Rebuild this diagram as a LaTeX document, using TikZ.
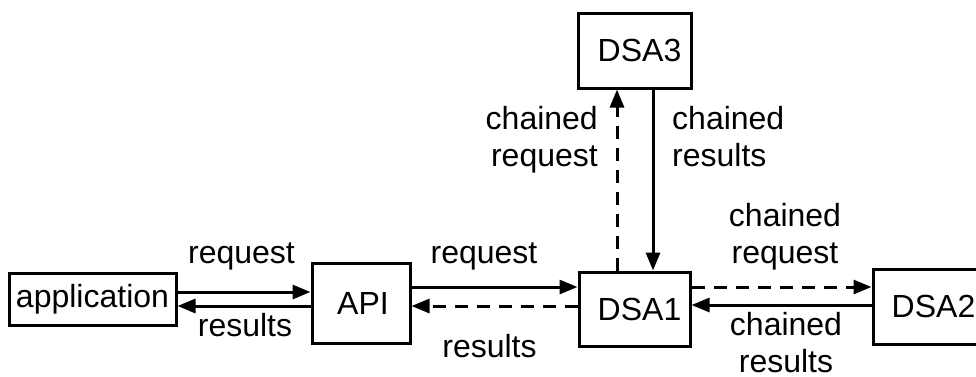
\documentclass[tikz,border=0pt]{standalone}
\usepackage{fontspec}
\setmainfont{Liberation Sans}
\usetikzlibrary{arrows.meta}
\begin{document}
\begin{tikzpicture}[x=1pt,y=-1pt,
  font=\fontsize{32}{37}\selectfont,
  box/.style={draw,line width=3pt,inner sep=0pt,anchor=center},
  conn/.style={line width=3pt,-{Triangle[length=18pt,width=14pt]}},
  dsh/.style={conn,dash pattern=on 13pt off 9pt},
  lbl/.style={inner sep=0pt,align=center,anchor=base}]
\useasboundingbox (0,0) rectangle (976,376);
\node[box,minimum width=167pt,minimum height=52pt] (app) at (92.5,299) {application};
\node[box,minimum width=98pt,minimum height=80pt] (api) at (361,303) {\hspace*{4pt}\raisebox{-11pt}{API}};
\node[box,minimum width=111pt,minimum height=74pt] (dsa1) at (634.5,309) {\hspace*{10pt}DSA1};
\node[box,minimum width=113pt,minimum height=75pt] (dsa3) at (634.5,50.5) {\hspace*{10pt}DSA3};
\node[box,minimum width=111pt,minimum height=75pt] (dsa2) at (928.5,306.5) {\hspace*{10pt}DSA2};
% connectors
\draw[conn] (app.east |- 0,292) -- (api.west |- 0,292);
\draw[conn] (api.west |- 0,306) -- (app.east |- 0,306);
\draw[conn] (api.east |- 0,287) -- (dsa1.west |- 0,287);
\draw[dsh] (dsa1.west |- 0,306) -- (api.east |- 0,306);
\draw[dsh] (dsa1.north -| 617,0) -- (dsa3.south -| 617,0);
\draw[conn] (dsa3.south -| 653,0) -- (dsa1.north -| 653,0);
\draw[dsh] (dsa1.east |- 0,287) -- (dsa2.west |- 0,287);
\draw[conn] (dsa2.west |- 0,305) -- (dsa1.east |- 0,305);
% labels
\node[lbl] (l1) at (241.5,263) {request};
\node[lbl] (l2) at (245,336) {results};
\node[lbl] (l3) at (484,263) {request};
\node[lbl] (l4) at (489.5,357) {results};
\node[lbl,align=right,anchor=base east] (l5) at (598,166) {chained\\request};
\node[lbl,align=left,anchor=base west] (l6) at (672,166) {chained\\results};
\node[lbl] (l7) at (785,263) {chained\\request};
\node[lbl] (l8) at (786,372) {chained\\results};
\end{tikzpicture}
\end{document}
